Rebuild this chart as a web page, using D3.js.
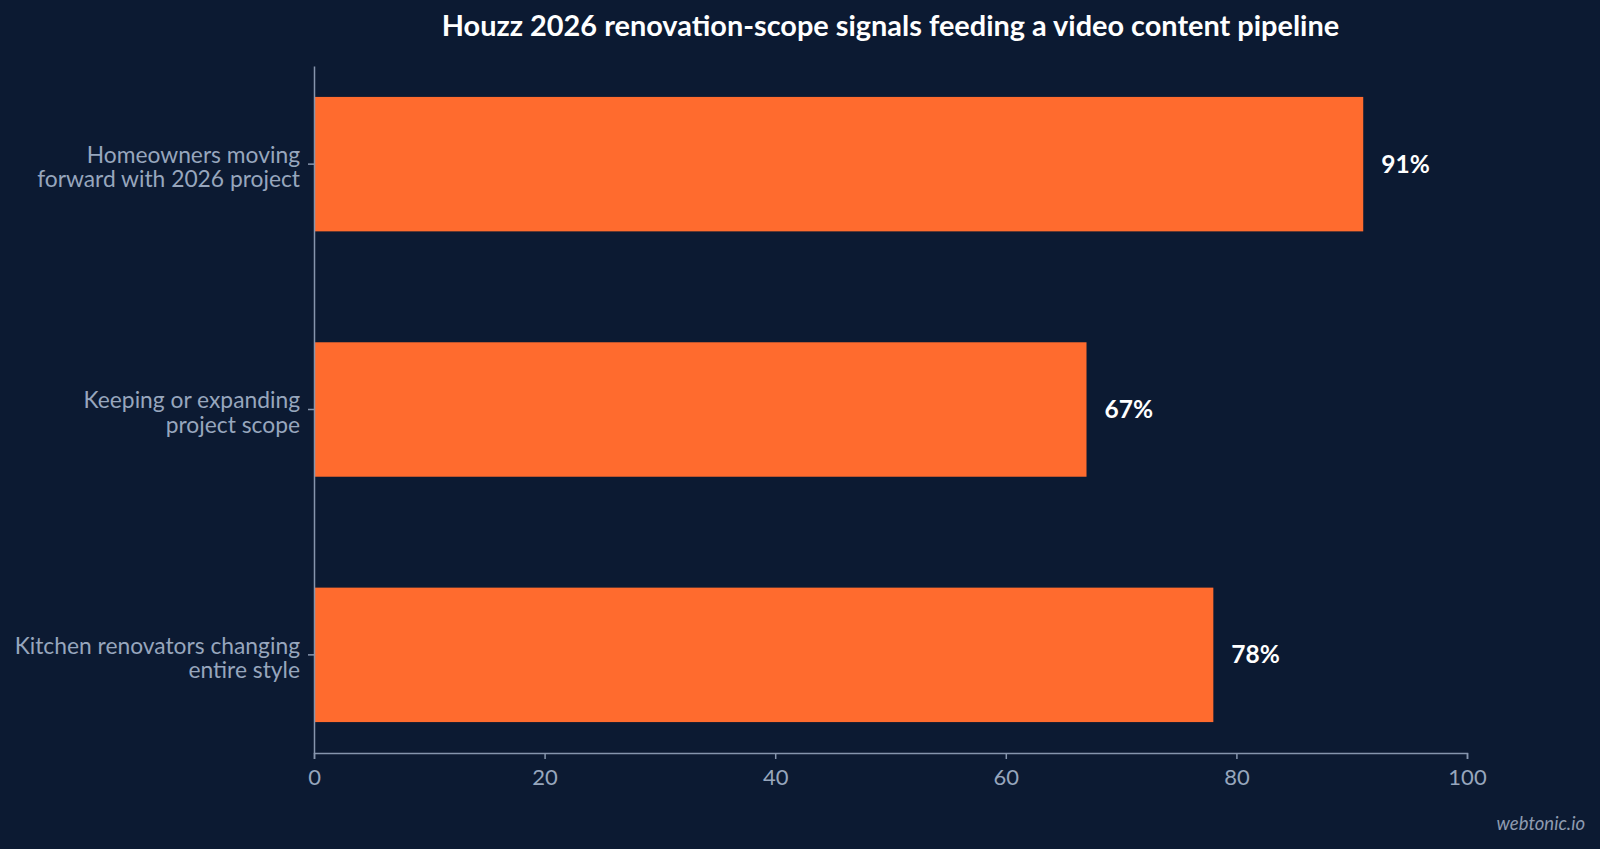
<!DOCTYPE html>
<html><head><meta charset="utf-8">
<script src="https://cdn.jsdelivr.net/npm/d3@7"></script>
<style>
html,body{margin:0;padding:0;background:#0c1a32;}
svg{display:block;font-family:Lato,"Noto Sans",sans-serif;}
</style></head>
<body>
<svg id="chart" width="1600" height="849"></svg>
<script>
const categories = [
  ["Homeowners moving", "forward with 2026 project"],
  ["Keeping or expanding", "project scope"],
  ["Kitchen renovators changing", "entire style"]
];
const values = [91, 67, 78];
const xTicks = [0, 20, 40, 60, 80, 100];
const title = "Houzz 2026 renovation-scope signals feeding a video content pipeline";

const svg = d3.select("#chart");
const W = 1600, H = 849;
svg.append("rect").attr("width", W).attr("height", H).attr("fill", "#0c1a32");

const m = {left: 314, right: 133, top: 66, bottom: 96};
const x = d3.scaleLinear().domain([0, 100]).range([m.left, W - m.right]);
const y = d3.scaleBand().domain(d3.range(categories.length)).range([m.top, H - m.bottom])
  .paddingInner(0.452).paddingOuter(0.126);

const axisColor = "#8695ad";
const textColor = "#97a6bd";

svg.append("text").attr("x", (x(0) + x(100)) / 2).attr("y", 36)
  .attr("text-anchor", "middle").attr("fill", "#ffffff")
  .attr("font-size", 28.9).attr("font-weight", 700).text(title);

svg.selectAll("rect.bar").data(values).join("rect").attr("class", "bar")
  .attr("x", x(0)).attr("y", (d, i) => y(i))
  .attr("width", d => x(d) - x(0)).attr("height", y.bandwidth())
  .attr("fill", "#ff6b2e");

svg.selectAll("text.val").data(values).join("text").attr("class", "val")
  .attr("x", d => x(d) + 18).attr("y", (d, i) => y(i) + y.bandwidth() / 2)
  .attr("dy", "0.35em").attr("fill", "#ffffff").attr("font-size", 24.5).attr("font-weight", 700)
  .text(d => d + "%");

// x axis
const xAxis = svg.append("g").attr("transform", `translate(0,${H - m.bottom})`)
  .call(d3.axisBottom(x).tickValues(xTicks).tickSizeOuter(6).tickSize(6).tickPadding(10));
xAxis.select(".domain").attr("stroke", axisColor).attr("stroke-width", 1.5);
xAxis.selectAll(".tick line").attr("stroke", axisColor).attr("stroke-width", 1.5);
xAxis.selectAll(".tick text").attr("fill", textColor).attr("font-size", 22)
  .attr("font-family", "Lato,'Noto Sans',sans-serif");

// y axis
const yAxis = svg.append("g").attr("transform", `translate(${m.left},0)`)
  .call(d3.axisLeft(y).tickSize(6).tickSizeOuter(0).tickFormat(() => ""));
yAxis.select(".domain").attr("stroke", axisColor).attr("stroke-width", 1.5);
yAxis.selectAll(".tick line").attr("stroke", axisColor).attr("stroke-width", 1.5);
yAxis.selectAll(".tick").each(function(d) {
  const t = d3.select(this).select("text")
    .attr("fill", textColor).attr("font-size", 22.8)
    .attr("font-family", "Lato,'Noto Sans',sans-serif")
    .attr("x", -14).attr("dy", null).attr("text-anchor", "end");
  const lines = categories[d];
  lines.forEach((ln, k) => {
    t.append("tspan").attr("x", -14)
      .attr("y", (k - (lines.length - 1) / 2) * 24.5 + 3)
      .attr("dy", "0.35em").text(ln);
  });
});

svg.append("text").attr("x", 1585).attr("y", 830).attr("text-anchor", "end")
  .attr("fill", "#8e9bb0").attr("font-size", 18.5).attr("font-style", "italic").text("webtonic.io");
</script>
</body></html>
